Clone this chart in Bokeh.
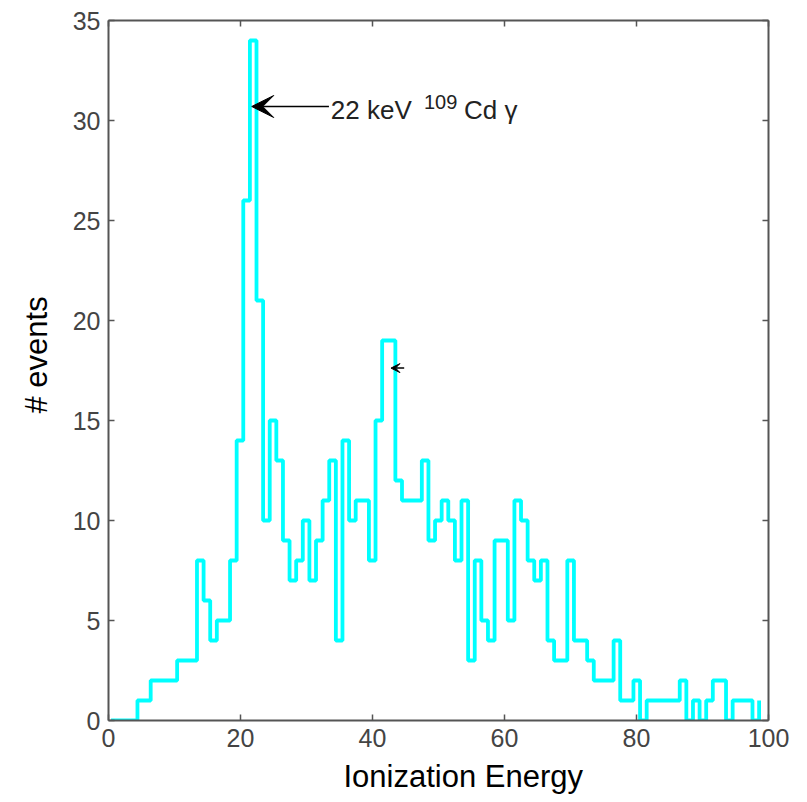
from bokeh.plotting import figure
from bokeh.models import (LinearAxis, Range1d, FixedTicker, Label, Arrow, VeeHead,
                          CustomJSTickFormatter, Title)
from bokeh.embed import file_html
from bokeh.resources import INLINE

# histogram counts per bin (bin k starts at bin_start + k*bin_width)
counts = [0, 0, 0, 0, 1, 1, 2, 2, 2, 2,
          3, 3, 3, 8, 6, 4, 5, 5, 8, 14,
          26, 34, 21, 10, 15, 13, 9, 7, 8, 10,
          7, 9, 11, 13, 4, 14, 10, 11, 11, 8,
          15, 19, 19, 12, 11, 11, 11, 13, 9, 10,
          11, 10, 8, 11, 3, 8, 5, 4, 9, 9,
          5, 11, 10, 8, 7, 8, 4, 3, 3, 8,
          4, 4, 3, 2, 2, 2, 4, 1, 1, 2,
          0, 1, 1, 1, 1, 1, 2, 0, 1, 0,
          1, 2, 2, 0, 1, 1, 1, 0, 1]
bin_start = 0.38
bin_width = 1.002

x_ticks = [0, 20, 40, 60, 80, 100]
y_ticks = [0, 5, 10, 15, 20, 25, 30, 35]

x_edges = [bin_start + bin_width * i for i in range(len(counts))]

FONT = "Liberation Sans"
AXC = "#555555"

p = figure(width=807, height=802, x_range=Range1d(0, 100), y_range=Range1d(0, 35),
           output_backend="svg", toolbar_location=None,
           min_border_left=108, min_border_right=39, min_border_top=20, min_border_bottom=82)
p.xgrid.visible = False
p.ygrid.visible = False
p.outline_line_color = None
p.background_fill_color = "white"

p.step(x_edges, counts, mode="after", line_color="#00FFFF", line_width=3.8)

def style_axis(ax, ticks):
    ax.ticker = FixedTicker(ticks=ticks)
    ax.major_tick_in = 6
    ax.major_tick_out = 0
    ax.minor_tick_line_color = None
    ax.axis_line_color = AXC
    ax.axis_line_width = 2
    ax.major_tick_line_color = AXC
    ax.major_tick_line_width = 1.5
    ax.major_label_text_font = FONT
    ax.major_label_text_font_size = "25px"
    ax.major_label_text_color = "#444444"

style_axis(p.xaxis[0], x_ticks)
style_axis(p.yaxis[0], y_ticks)
p.xaxis[0].major_label_standoff = 8
p.yaxis[0].major_label_standoff = 8

blank = "return ''"
top = LinearAxis(formatter=CustomJSTickFormatter(code=blank))
style_axis(top, x_ticks)
top.major_label_text_font_size = "0px"
top.major_label_standoff = 0
p.add_layout(top, "above")

right = LinearAxis(formatter=CustomJSTickFormatter(code=blank))
style_axis(right, y_ticks)
right.major_label_text_font_size = "0px"
right.major_label_standoff = 0
p.add_layout(right, "right")

# axis titles (as titles, so they can be offset like in the reference)
p.add_layout(Title(text="Ionization Energy", align="left", offset=235, standoff=14,
                   text_font=FONT, text_font_size="31px", text_font_style="normal",
                   text_color="black"), "below")
p.add_layout(Title(text="# events", align="left", offset=307, standoff=32,
                   text_font=FONT, text_font_size="31px", text_font_style="normal",
                   text_color="black"), "left")

# annotation
p.add_layout(Arrow(end=VeeHead(size=22, fill_color="black", line_color="black"),
                   x_start=33.4, y_start=30.7, x_end=21.7, y_end=30.7,
                   line_color="black", line_width=1.5))
p.add_layout(Label(x=33.69, y=30.53, text="22 keV", text_font=FONT, text_font_size="26px",
                   text_baseline="alphabetic", text_color="#222222"))
p.add_layout(Label(x=47.8, y=30.93, text="109", text_font=FONT, text_font_size="20px",
                   text_baseline="alphabetic", text_color="#222222"))
p.add_layout(Label(x=53.86, y=30.53, text="Cd \u03b3", text_font=FONT, text_font_size="26px",
                   text_baseline="alphabetic", text_color="#222222"))

p.add_layout(Arrow(end=VeeHead(size=9, fill_color="black", line_color="black"),
                   x_start=44.8, y_start=17.62, x_end=42.8, y_end=17.62,
                   line_color="black", line_width=1.5))

open("out.html", "w").write(file_html(p, INLINE))
